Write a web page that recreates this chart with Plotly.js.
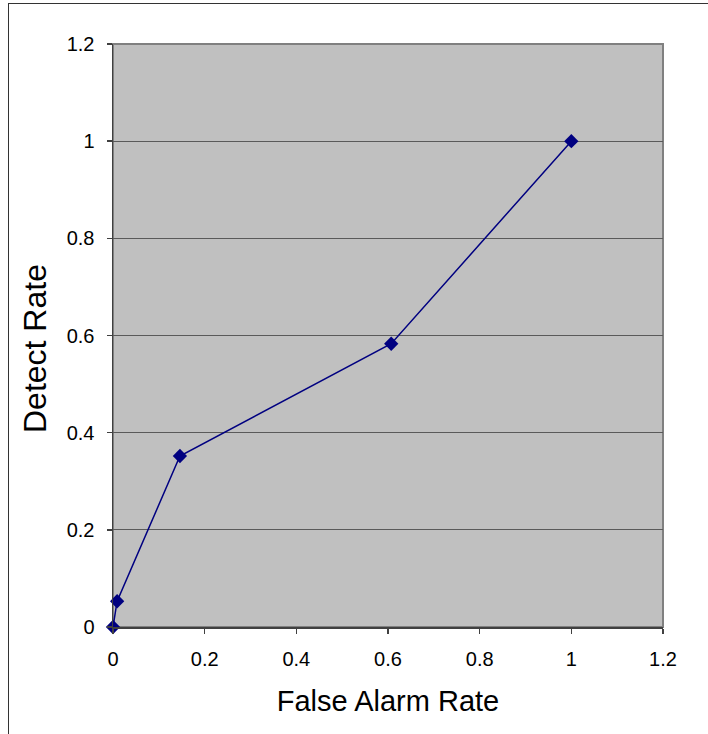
<!DOCTYPE html>
<html>
<head>
<script src="https://cdn.plot.ly/plotly-3.0.1.min.js"></script>
<style>
html,body{margin:0;padding:0;background:#fff;overflow:hidden;}
#frame{position:absolute;left:8px;top:3px;width:720px;height:760px;border-left:1.5px solid #333;border-top:1.5px solid #333;}
#chart{position:absolute;left:0;top:0;width:708px;height:734px;}
</style>
</head>
<body>
<div id="frame"></div>
<div id="chart"></div>
<script>
const falseAlarmRate = [0, 0.009, 0.146, 0.607, 1.0];
const detectRate = [0, 0.053, 0.352, 0.583, 1.0];
const tickVals = [0, 0.2, 0.4, 0.6, 0.8, 1, 1.2];
const tickText = ['0', '0.2', '0.4', '0.6', '0.8', '1', '1.2'];

const trace = {
  x: falseAlarmRate,
  y: detectRate,
  mode: 'lines+markers',
  type: 'scatter',
  line: {color: '#000080', width: 1.5},
  marker: {symbol: 'diamond', color: '#000080', size: 11},
  cliponaxis: false,
  hoverinfo: 'none'
};

const font = {family: 'Liberation Sans, Arial, sans-serif', color: '#000'};

const layout = {
  width: 708, height: 734,
  margin: {l: 113, r: 45, t: 44, b: 107},
  paper_bgcolor: 'rgba(0,0,0,0)',
  plot_bgcolor: '#c0c0c0',
  showlegend: false,
  font: font,
  xaxis: {
    range: [0, 1.2], tickvals: tickVals, ticktext: tickText,
    showgrid: false, zeroline: false,
    showline: true, linecolor: '#404040', linewidth: 1.5,
    ticks: 'outside', ticklen: 5, tickcolor: '#404040', tickwidth: 1.5,
    ticklabelstandoff: 8,
    tickfont: {size: 20, family: font.family, color: '#000'},
    title: {text: 'False Alarm Rate', font: {size: 29, family: font.family, color: '#000'}, standoff: 22}
  },
  yaxis: {
    range: [0, 1.2], tickvals: tickVals, ticktext: tickText,
    showgrid: true, gridcolor: '#5a5a5a', gridwidth: 1,
    zeroline: false,
    showline: true, linecolor: '#404040', linewidth: 1.5,
    ticks: 'outside', ticklen: 5, tickcolor: '#404040', tickwidth: 1.5,
    ticklabelstandoff: 8,
    tickfont: {size: 20, family: font.family, color: '#000'}
  },
  annotations: [{
    text: 'Detect Rate', textangle: -90, showarrow: false,
    xref: 'paper', yref: 'paper', x: (35 - 113) / 550, y: (627 - 349) / 583,
    xanchor: 'center', yanchor: 'middle',
    font: {size: 32, family: font.family, color: '#000'}
  }],
  shapes: [{
    type: 'rect', xref: 'paper', yref: 'paper', x0: 0, x1: 1, y0: 0, y1: 1,
    line: {color: '#808080', width: 2}, layer: 'below'
  }]
};

Plotly.newPlot('chart', [trace], layout, {displayModeBar: false, staticPlot: true});
</script>
</body>
</html>
